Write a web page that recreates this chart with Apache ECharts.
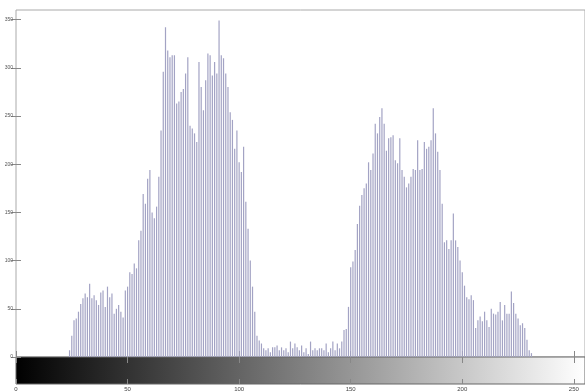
<!DOCTYPE html>
<html>
<head>
<meta charset="utf-8">
<script src="https://cdn.jsdelivr.net/npm/echarts@6/dist/echarts.min.js"></script>
<style>
  html, body { margin: 0; padding: 0; background: #fff; }
  #hist { width: 585px; height: 392px; }
</style>
</head>
<body>
<div id="hist"></div>
<script>
// pixel counts per gray level 0..255
const zerosLow = [0,0,0,0,0,0,0,0,0,0,0,0,0,0,0,0,0,0,0,0,0,0,0,0];
const darkLump = [7,22,38,40,47,55,61,66,62,76,61,64,59,54,67,69,52,73,62,66,
  45,50,54,47,41,69,73,88,86,97,92,121,131,169,159,185,194,150,144,156,187,
  235,296,342,318,311,313,313,263,265,275,278,294,311,240,237,232,223,306,280,256,
  287,315,313,292,306,294,349,313,310,294,280,254,246,216,235,202,192,218,161,133,
  100,73];
const valley = [47,22,17,14,9,7,9,5,10,10,12,7,10,7,9,5,16,9,14,10,
  7,12,5,9,3,16,7,9,7,9,9,7,14,5,9,16,7,14,9,16,28,29,52,93,99,111];
const lightLump = [138,157,168,175,180,202,194,211,242,232,249,258,242,214,227,228,230,204,201,227,194,
  187,176,180,187,195,194,225,194,195,223,216,218,225,258,232,213,194,159,119,121,112,121,149,121,
  114,100,88,74,62,60,64,59,30,38,42,37,47,38,31,50,45,44,47,57,
  38,54,45,45,68,56,45,40,33,35,30,18,7,4];
const zerosHigh = [0,0,0,0,0,0,0,0,0,0,0,0,0,0,0,0,0,0,0,0,0,0,0,0];
const counts = [].concat(zerosLow, darkLump, valley, lightLump, zerosHigh);

const xTicks = [0, 50, 100, 150, 200, 250];
const yTicks = [0, 50, 100, 150, 200, 250, 300, 350];

const chart = echarts.init(document.getElementById("hist"), null, { renderer: "canvas" });

const lineCol = "#aaa";
const tickOpts = (len) => ({
  show: true,
  inside: true,
  length: len,
  customValues: xTicks,
  lineStyle: { color: "#888", width: 1 },
});

const option = {
  animation: false,
  backgroundColor: "#fff",
  grid: [
    {
      left: 16, top: 10, width: 571, height: 347,
      show: true, borderColor: lineCol, borderWidth: 1, backgroundColor: "#fff",
    },
    {
      left: 16, top: 357, width: 571, height: 28,
      show: true, borderColor: "#666", borderWidth: 1,
      backgroundColor: new echarts.graphic.LinearGradient(0, 0, 1, 0, [
        { offset: 0, color: "#000" },
        { offset: 1, color: "#fff" },
      ]),
    },
  ],
  xAxis: [
    {
      gridIndex: 0, type: "value", min: 0, max: 255, position: "bottom",
      axisLine: { show: false }, axisLabel: { show: false }, splitLine: { show: false },
      axisTick: tickOpts(6),
    },
    {
      gridIndex: 0, type: "value", min: 0, max: 255, position: "top",
      axisLine: { show: false }, axisLabel: { show: false }, splitLine: { show: false },
      axisTick: tickOpts(6),
    },
    {
      gridIndex: 1, type: "value", min: 0, max: 255, position: "bottom",
      axisLine: { show: false }, splitLine: { show: false },
      axisTick: tickOpts(5),
      axisLabel: {
        customValues: xTicks, fontSize: 6, color: "#444", margin: 2,
        fontFamily: "Liberation Sans",
      },
    },
    {
      gridIndex: 1, type: "value", min: 0, max: 255, position: "top",
      axisLine: { show: false }, axisLabel: { show: false }, splitLine: { show: false },
      axisTick: tickOpts(5),
    },
  ],
  yAxis: [
    {
      gridIndex: 0, type: "value", min: 0, max: 360, position: "left",
      axisLine: { show: false }, splitLine: { show: false },
      axisTick: { show: true, inside: true, length: 5, customValues: yTicks, lineStyle: { color: "#888" } },
      axisLabel: {
        customValues: yTicks, fontSize: 5, color: "#555", margin: 3,
        fontFamily: "Liberation Sans",
      },
    },
    {
      gridIndex: 0, type: "value", min: 0, max: 360, position: "right",
      axisLine: { show: false }, splitLine: { show: false }, axisLabel: { show: false },
      axisTick: { show: true, inside: true, length: 5, customValues: yTicks, lineStyle: { color: "#888" } },
    },
    {
      gridIndex: 1, type: "value", min: 0, max: 1, show: false,
    },
  ],
  series: [
    {
      type: "bar",
      xAxisIndex: 0,
      yAxisIndex: 0,
      barWidth: 1.2,
      itemStyle: { color: "#a3a3c4" },
      data: counts.map((v, i) => [i, v]),
    },
  ],
};

chart.setOption(option);
</script>
</body>
</html>
